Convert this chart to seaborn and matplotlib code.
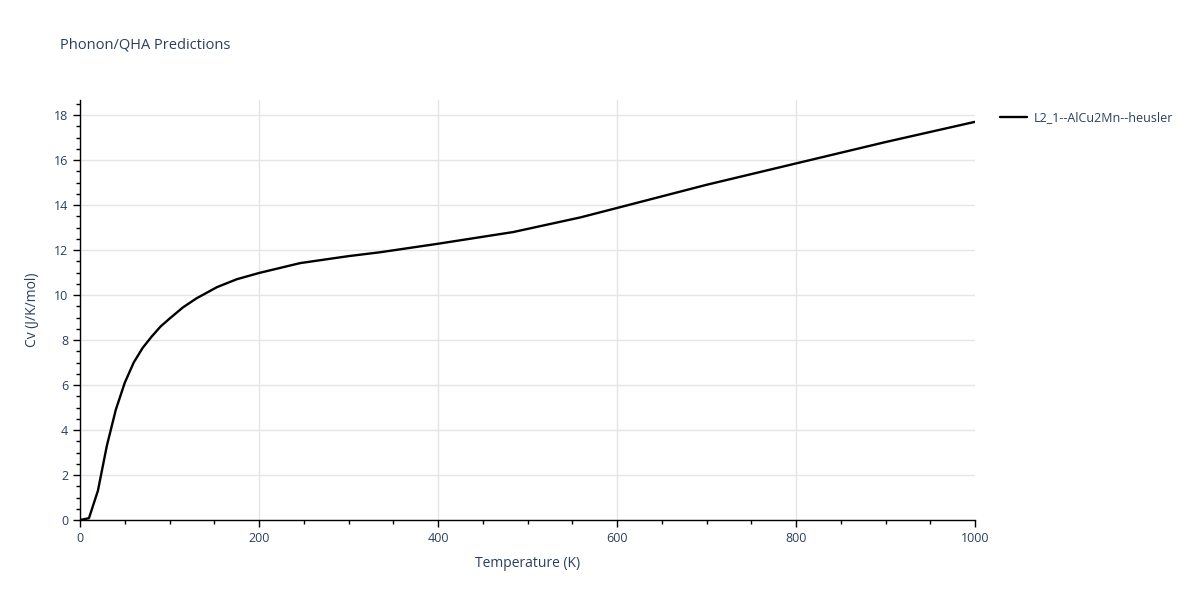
import matplotlib
matplotlib.use("Agg")
import matplotlib.pyplot as plt
from matplotlib.ticker import MultipleLocator
import pandas as pd
import seaborn as sns

# values
temperature = [0, 10, 20, 30, 40, 50, 60, 70, 80, 90, 100, 115, 130, 153, 175,
               200, 246, 300, 335, 400, 484, 559, 600, 700, 800, 900, 1000]
cv = [0.0, 0.08, 1.3, 3.3, 4.9, 6.1, 7.0, 7.65, 8.15, 8.6, 8.95, 9.45, 9.85, 10.35, 10.7,
      10.98, 11.42, 11.73, 11.9, 12.28, 12.8, 13.45, 13.87, 14.9, 15.85, 16.8, 17.7]
series_name = "L2_1--AlCu2Mn--heusler"

df = pd.DataFrame({"Temperature (K)": temperature, "Cv (J/K/mol)": cv, "name": series_name})

TEXT = "#2a3f5f"
sns.set_style("white")
plt.rcParams["font.family"] = ["Open Sans", "DejaVu Sans"]

fig = plt.figure(figsize=(12, 6), dpi=100)
ax = fig.add_axes([80 / 1200, 1 - 520 / 600, 895 / 1200, 420 / 600])

sns.lineplot(data=df, x="Temperature (K)", y="Cv (J/K/mol)", hue="name",
             palette=["black"], linewidth=1.7, ax=ax)

ax.set_xlim(0, 1000)
ax.set_ylim(0, 18.67)
ax.xaxis.set_major_locator(MultipleLocator(200))
ax.xaxis.set_minor_locator(MultipleLocator(50))
ax.yaxis.set_major_locator(MultipleLocator(2))
ax.yaxis.set_minor_locator(MultipleLocator(0.5))

ax.grid(True, which="major", color="#e5e5e5", linewidth=1)
ax.set_axisbelow(True)
# no gridline at the right edge
for tick in ax.xaxis.get_major_ticks():
    if tick.get_loc() >= 1000:
        tick.gridline.set_visible(False)

for side in ["top", "right"]:
    ax.spines[side].set_visible(False)
for side in ["left", "bottom"]:
    ax.spines[side].set_color("black")
    ax.spines[side].set_linewidth(1)

ax.tick_params(which="major", direction="out", length=5, width=1, color="black",
               labelsize=9, labelcolor=TEXT)
ax.tick_params(which="minor", direction="out", length=3, width=1, color="black")
ax.tick_params(axis="y", which="both", left=True)
ax.tick_params(axis="x", which="both", bottom=True)

ax.set_xlabel("Temperature (K)", fontsize=10, color=TEXT, labelpad=8)
ax.set_ylabel("Cv (J/K/mol)", fontsize=10, color=TEXT, labelpad=10)

fig.text(60 / 1200, 1 - 45 / 600, "Phonon/QHA Predictions", fontsize=10.5, color=TEXT,
         va="center", ha="left")

leg = ax.legend(loc="upper left", bbox_to_anchor=(1.015, 1.0), frameon=False,
                fontsize=9, handlelength=2.2, handletextpad=0.5, borderaxespad=0.5)
for t in leg.get_texts():
    t.set_color(TEXT)

fig.savefig("out.png", dpi=100)
